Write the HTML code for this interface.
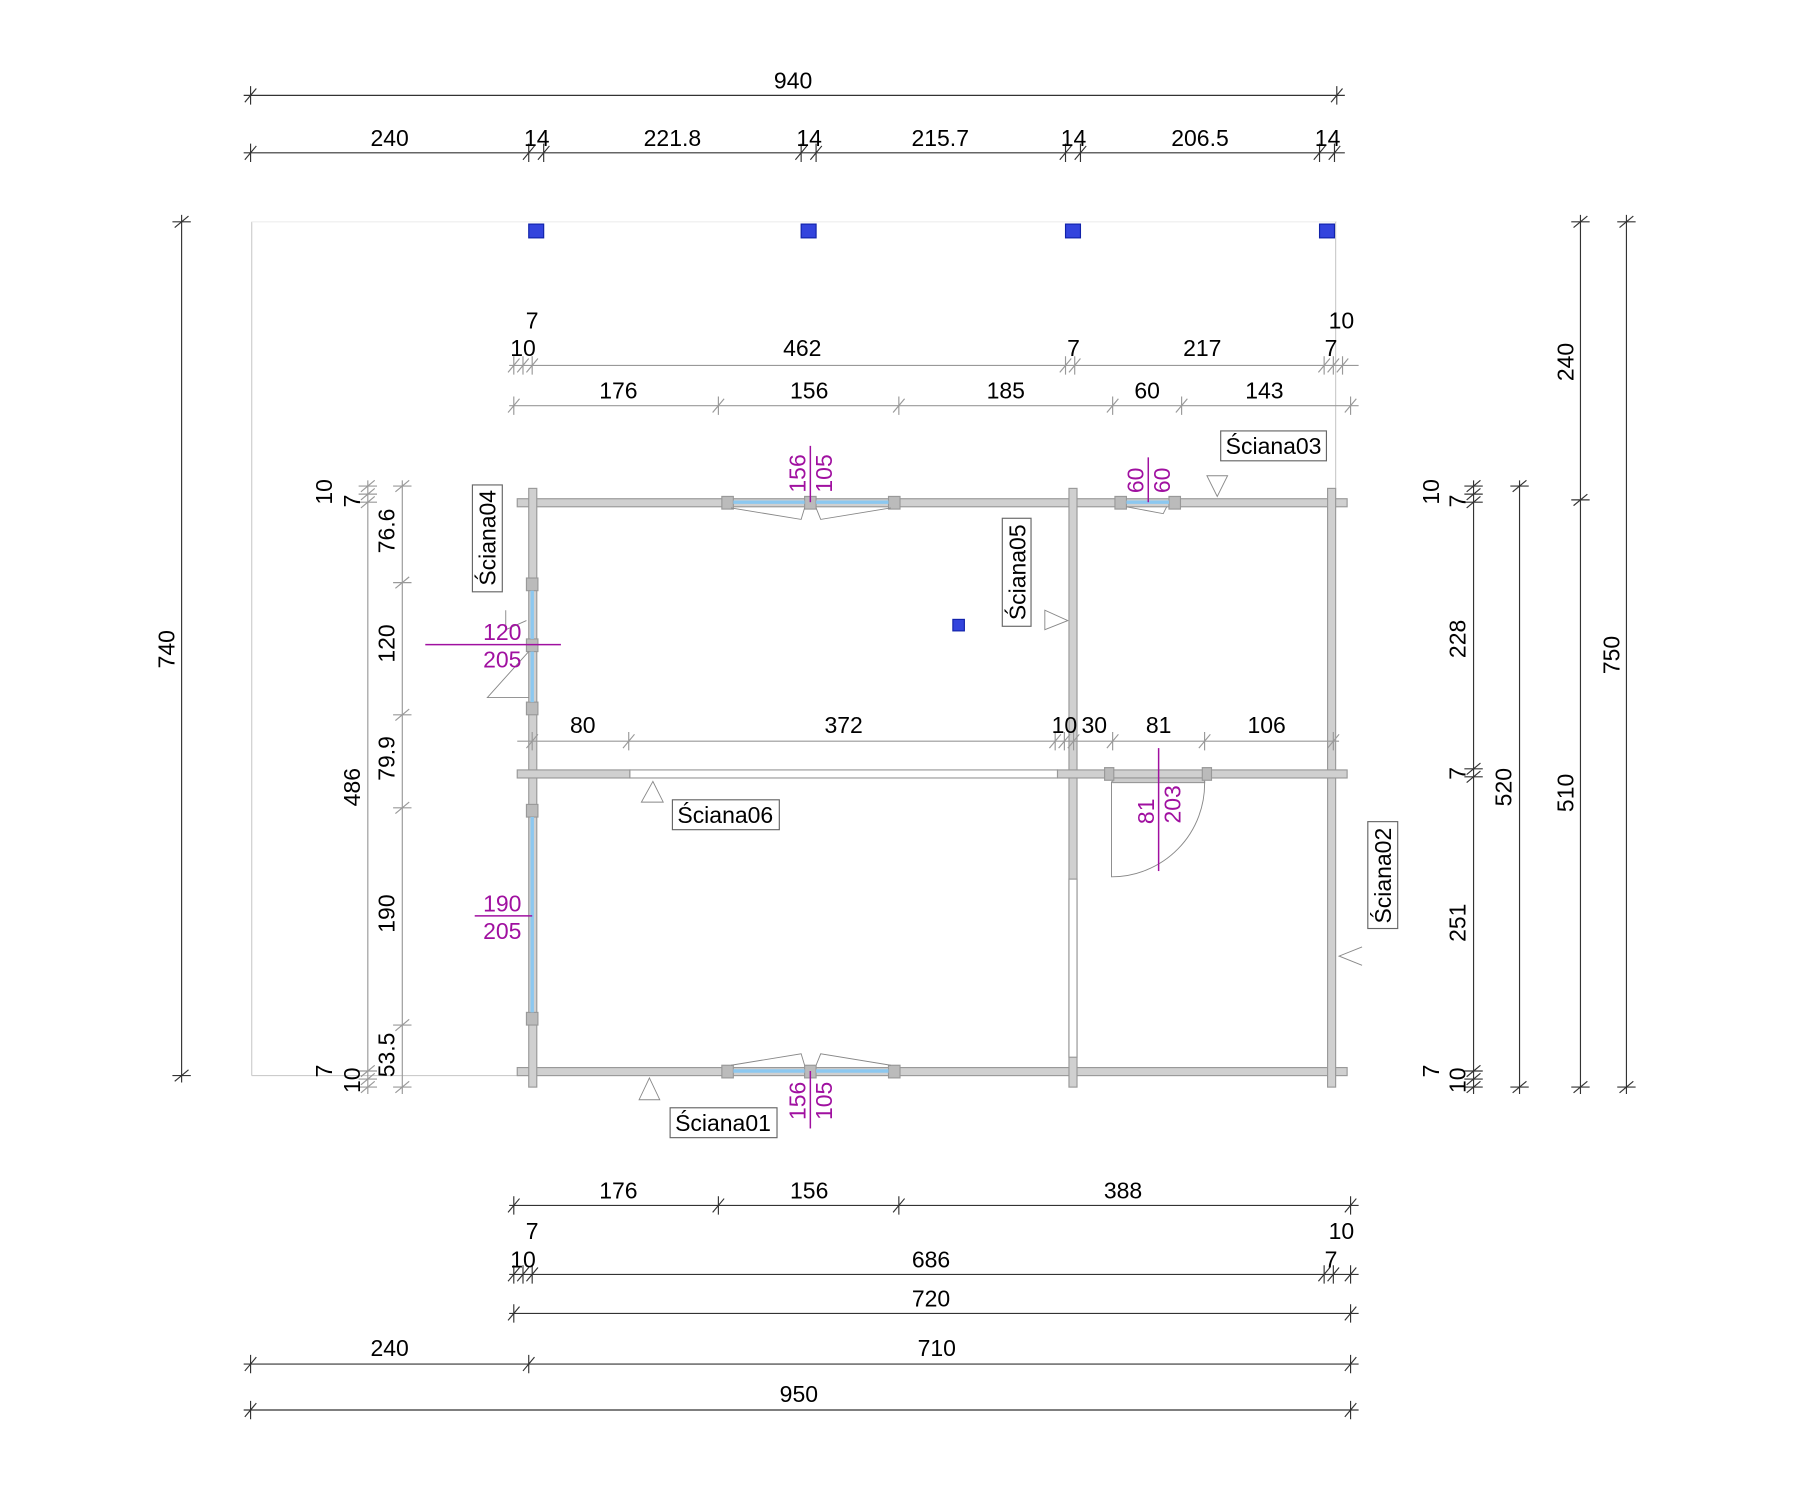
<!DOCTYPE html>
<html><head><meta charset="utf-8"><style>
html,body{margin:0;padding:0;background:#fff;}
svg{display:block;}
text{font-family:"Liberation Sans",sans-serif;font-size:20px;fill:#000;}
.m{fill:#a010a0;}
</style></head><body>
<svg id="s" width="1800" height="1487" viewBox="0 0 1566 1294" preserveAspectRatio="none" xmlns="http://www.w3.org/2000/svg">
<g fill="none" stroke="#ccc" stroke-width="1">
<line x1="219" y1="193" x2="219" y2="936"/><line x1="219" y1="193" x2="1163" y2="193" stroke="#eee"/>
<line x1="1162" y1="193" x2="1162" y2="437"/><line x1="219" y1="936" x2="460" y2="936"/>
</g>
<g fill="#3344dd" stroke="#1122aa"><rect x="460" y="195" width="13" height="12"/><rect x="697" y="195" width="13" height="12"/><rect x="927" y="195" width="13" height="12"/><rect x="1148" y="195" width="13" height="12"/><rect x="829" y="539" width="10" height="10"/></g>
<!-- walls -->
<g fill="#d0d0d0" stroke="#999" stroke-width="1">
<rect x="450" y="434" width="722" height="7"/><rect x="450" y="929" width="722" height="7"/>
<rect x="460" y="425" width="7" height="521"/><rect x="1155" y="425" width="7" height="521"/>
<rect x="930" y="425" width="7" height="521"/>
<rect x="450" y="670" width="98" height="7"/><rect x="920" y="670" width="252" height="7"/>
<rect x="548" y="670" width="372" height="7" fill="#fff"/>
<rect x="930" y="765" width="7" height="155" fill="#fff"/>
<rect x="968" y="677" width="80" height="4" fill="#ccc"/>
<rect x="628" y="432" width="10" height="11" fill="#bbb"/><rect x="773" y="432" width="10" height="11" fill="#bbb"/><rect x="700" y="432" width="10" height="11" fill="#bbb"/>
<rect x="628" y="927" width="10" height="11" fill="#bbb"/><rect x="773" y="927" width="10" height="11" fill="#bbb"/><rect x="700" y="927" width="10" height="11" fill="#bbb"/>
<rect x="970" y="432" width="10" height="11" fill="#bbb"/><rect x="1017" y="432" width="10" height="11" fill="#bbb"/>
<rect x="458" y="503" width="10" height="11" fill="#bbb"/><rect x="458" y="556" width="10" height="11" fill="#bbb"/><rect x="458" y="611" width="10" height="11" fill="#bbb"/>
<rect x="458" y="700" width="10" height="11" fill="#bbb"/><rect x="458" y="881" width="10" height="11" fill="#bbb"/>
<rect x="961" y="668" width="8" height="11" fill="#bbb"/><rect x="1046" y="668" width="8" height="11" fill="#bbb"/>
</g>
<g stroke="#8cc8f0" stroke-width="3">
<line x1="638" y1="437" x2="700" y2="437"/><line x1="710" y1="437" x2="773" y2="437"/>
<line x1="638" y1="932" x2="700" y2="932"/><line x1="710" y1="932" x2="773" y2="932"/>
<line x1="980" y1="437" x2="1017" y2="437"/>
<line x1="463" y1="514" x2="463" y2="556"/><line x1="463" y1="567" x2="463" y2="611"/>
<line x1="463" y1="711" x2="463" y2="881"/>
</g>
<g fill="none" stroke="#888" stroke-width="0.8">
<path d="M636 442 L697 452 L700 442"/><path d="M775 442 L714 452 L710 442"/>
<path d="M636 927 L697 917 L700 927"/><path d="M775 927 L714 917 L710 927"/>
<path d="M980 441 L1012 447 L1015 441"/>
<path d="M460 567 L424 607 L460 607"/>
<path d="M1048 680 A81 81 0 0 1 967 763 L967 680"/>
<path d="M568 680 L558 698 L577 698 Z"/><path d="M565 938 L556 957 L574 957 Z"/>
<path d="M1050 414 L1068 414 L1059 432 Z"/><path d="M909 531 L909 548 L929 540 Z"/>
<path d="M440 531 L440 548 L458 540"/><path d="M1185 824 L1165 832 L1185 840"/>
</g>
<g stroke="#a010a0" stroke-width="1.3">
<line x1="705" y1="388" x2="705" y2="437"/><line x1="705" y1="932" x2="705" y2="982"/>
<line x1="999" y1="398" x2="999" y2="437"/><line x1="1008" y1="651" x2="1008" y2="758"/>
<line x1="370" y1="561" x2="488" y2="561"/><line x1="413" y1="797" x2="463" y2="797"/>
</g>
<g fill="#fff" stroke="#666" stroke-width="1">
<rect x="1062" y="375" width="92" height="26"/><rect x="411" y="422" width="26" height="93"/>
<rect x="872" y="451" width="25" height="94"/><rect x="585" y="696" width="93" height="26"/>
<rect x="583" y="964" width="93" height="26"/><rect x="1190" y="715" width="26" height="93"/>
</g>
<g id="dims" stroke="#333" stroke-width="1" fill="none"></g>
<g id="txt"></g>
<text x="1108" y="395" text-anchor="middle">Ściana03</text>
<text x="631" y="716" text-anchor="middle">Ściana06</text>
<text x="629" y="984" text-anchor="middle">Ściana01</text>
<text transform="translate(431 468) rotate(-90)" text-anchor="middle">Ściana04</text>
<text transform="translate(892 498) rotate(-90)" text-anchor="middle">Ściana05</text>
<text transform="translate(1210 762) rotate(-90)" text-anchor="middle">Ściana02</text>
<text class="m" x="437" y="557" text-anchor="middle">120</text><text class="m" x="437" y="581" text-anchor="middle">205</text>
<text class="m" x="437" y="793" text-anchor="middle">190</text><text class="m" x="437" y="817" text-anchor="middle">205</text>
<text class="m" transform="translate(701 412) rotate(-90)" text-anchor="middle">156</text><text class="m" transform="translate(724 412) rotate(-90)" text-anchor="middle">105</text>
<text class="m" transform="translate(701 958) rotate(-90)" text-anchor="middle">156</text><text class="m" transform="translate(724 958) rotate(-90)" text-anchor="middle">105</text>
<text class="m" transform="translate(995 418) rotate(-90)" text-anchor="middle">60</text><text class="m" transform="translate(1018 418) rotate(-90)" text-anchor="middle">60</text>
<text class="m" transform="translate(1004 706) rotate(-90)" text-anchor="middle">81</text><text class="m" transform="translate(1027 700) rotate(-90)" text-anchor="middle">203</text>
</svg>
<script>
var d=document.getElementById('dims'),t=document.getElementById('txt'),N='http://www.w3.org/2000/svg';
function el(p,n,a){var e=document.createElementNS(N,n);for(var k in a)e.setAttribute(k,a[k]);p.appendChild(e);return e;}
function H(y,x1,x2,ticks,c){el(d,'line',{x1:x1,y1:y,x2:x2,y2:y,stroke:c||'#333'});ticks.forEach(function(x){el(d,'path',{d:'M'+(x-5)+' '+(y+6)+'L'+(x+5)+' '+(y-6)+'M'+x+' '+(y-8)+'V'+(y+8),stroke:c||'#333'});});}
function V(x,y1,y2,ticks,c){el(d,'line',{x1:x,y1:y1,x2:x,y2:y2,stroke:c||'#333'});ticks.forEach(function(y){el(d,'path',{d:'M'+(x-6)+' '+(y+5)+'L'+(x+6)+' '+(y-5)+'M'+(x-8)+' '+y+'H'+(x+8),stroke:c||'#333'});});}
function T(x,y,s,r){var e=el(t,'text',{'text-anchor':'middle'});if(r)e.setAttribute('transform','translate('+x+' '+y+') rotate(-90)');else{e.setAttribute('x',x);e.setAttribute('y',y);}e.textContent=s;}
H(83,212,1170,[218,1163]);T(690,77,'940');
H(133,212,1170,[218,460,473,697,710,927,940,1148,1161]);
[[339,'240'],[467,'14'],[585,'221.8'],[704,'14'],[818,'215.7'],[934,'14'],[1044,'206.5'],[1155,'14']].forEach(function(a){T(a[0],127,a[1]);});
H(318,443,1182,[447,455,463,927,935,1152,1160,1168],'#999');
T(463,286,'7');T(455,310,'10');T(698,310,'462');T(934,310,'7');T(1046,310,'217');T(1167,286,'10');T(1158,310,'7');
H(353,443,1182,[447,625,782,968,1028,1175],'#999');
[[538,'176'],[704,'156'],[875,'185'],[998,'60'],[1100,'143']].forEach(function(a){T(a[0],347,a[1]);});
H(645,450,1165,[463,547,918,926,934,968,1048,1160],'#999');
[[507,'80'],[734,'372'],[926,'10'],[952,'30'],[1008,'81'],[1102,'106']].forEach(function(a){T(a[0],638,a[1]);});
H(1049,443,1182,[447,625,782,1175]);T(538,1043,'176');T(704,1043,'156');T(977,1043,'388');
H(1109,443,1182,[447,455,463,1152,1160,1175]);T(463,1078,'7');T(455,1103,'10');T(810,1103,'686');T(1167,1078,'10');T(1158,1103,'7');
H(1143,443,1182,[447,1175]);T(810,1137,'720');
H(1187,212,1182,[218,460,1175]);T(339,1180,'240');T(815,1180,'710');
H(1227,212,1182,[218,1175]);T(695,1220,'950');
V(158,187,942,[193,936]);T(152,565,'740',1);
V(1375,187,952,[193,435,946]);T(1369,315,'240',1);T(1369,690,'510',1);
V(1415,187,952,[193,946]);T(1409,570,'750',1);
V(1322,418,952,[423,946]);T(1315,685,'520',1);
V(1282,418,952,[423,430,437,669,676,932,939,946]);
T(1252,428,'10',1);T(1275,436,'7',1);T(1275,556,'228',1);T(1275,673,'7',1);T(1275,803,'251',1);T(1252,932,'7',1);T(1275,940,'10',1);
V(320,418,952,[423,430,437,932,939,946],'#999');T(313,685,'486',1);T(289,428,'10',1);T(313,436,'7',1);T(289,932,'7',1);T(313,940,'10',1);
V(350,418,952,[423,507,622,703,892,946],'#999');
T(343,462,'76.6',1);T(343,560,'120',1);T(343,660,'79.9',1);T(343,795,'190',1);T(343,918,'53.5',1);
</script>
</body></html>
